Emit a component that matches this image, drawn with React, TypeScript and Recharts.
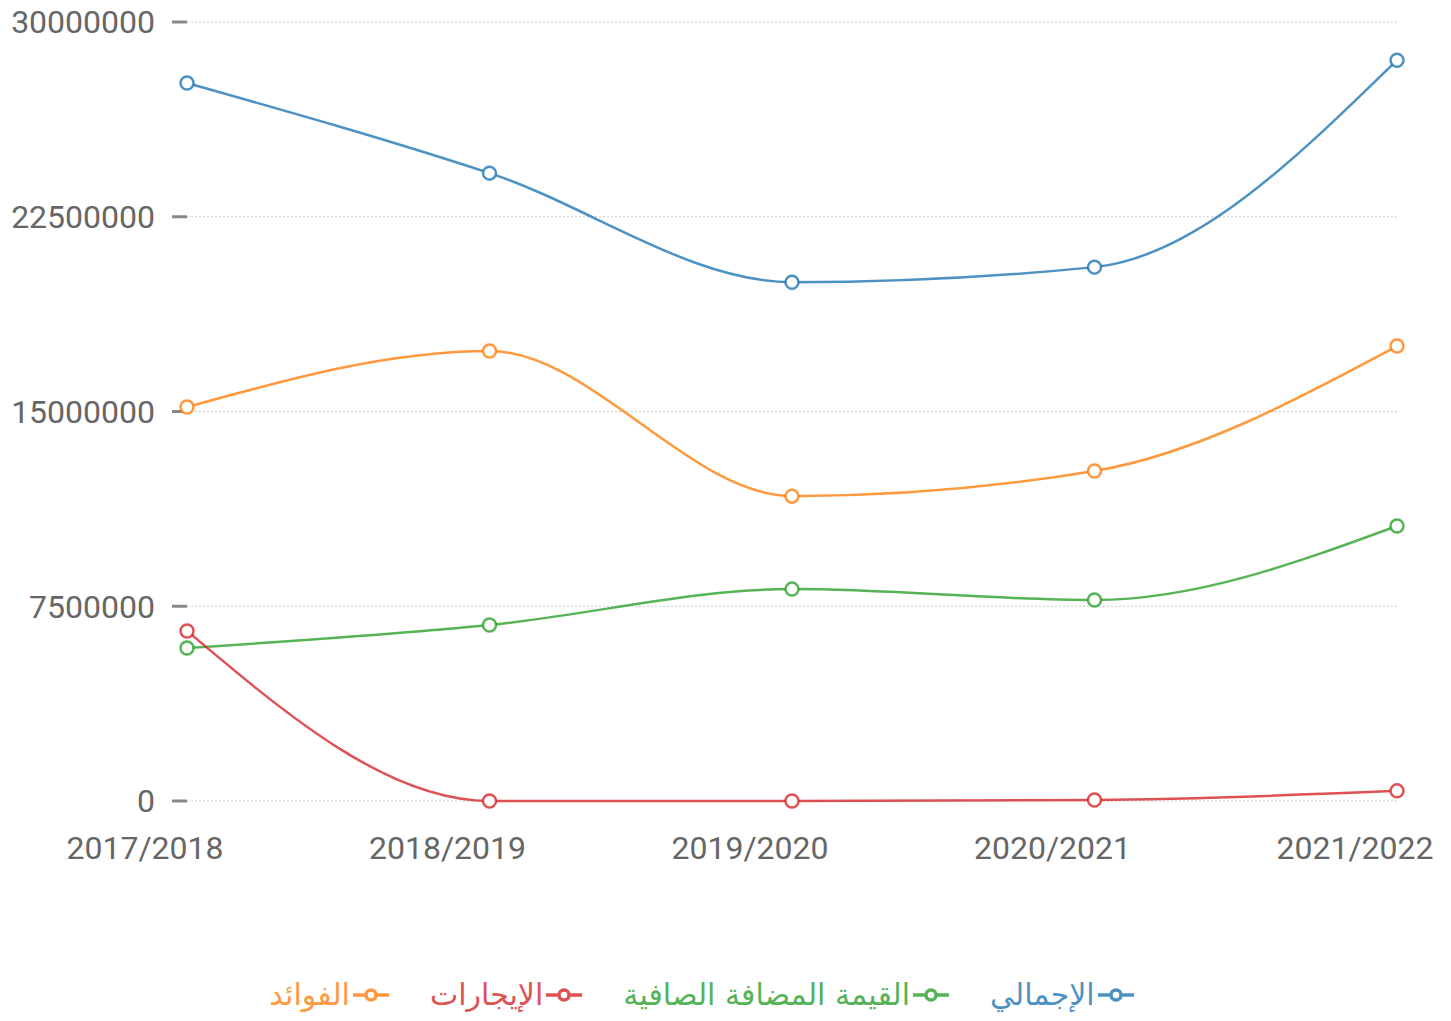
import { LineChart, Line, XAxis, YAxis, CartesianGrid } from 'recharts';

const years = ['2017/2018', '2018/2019', '2019/2020', '2020/2021', '2021/2022'];
const total = [27650000, 24180000, 19980000, 20560000, 28530000];
const netValueAdded = [5890000, 6780000, 8160000, 7740000, 10590000];
const rents = [6550000, 0, 0, 40000, 390000];
const interest = [15170000, 17330000, 11740000, 12710000, 17520000];
const yTicks = [0, 7500000, 15000000, 22500000, 30000000];

const data = years.map((year, i) => ({
  year,
  total: total[i],
  netValueAdded: netValueAdded[i],
  rents: rents[i],
  interest: interest[i],
}));

// legend order is right-to-left
const series = [
  { dataKey: 'total', name: 'الإجمالي', color: '#1f77b4' },
  { dataKey: 'netValueAdded', name: 'القيمة المضافة الصافية', color: '#2ca02c' },
  { dataKey: 'rents', name: 'الإيجارات', color: '#d62728' },
  { dataKey: 'interest', name: 'الفوائد', color: '#ff7f0e' },
];

const axisFont = { fontFamily: 'Roboto, Arial, sans-serif', fontSize: 32, fill: '#666' };

function YearTick({ x, y, payload }: any) {
  return (
    <text x={x - 42} y={y + 47} dy="0.355em" textAnchor="middle" {...axisFont}>
      {payload.value}
    </text>
  );
}

function LegendIcon({ color }: { color: string }) {
  return (
    <svg width={38} height={16} style={{ display: 'block' }}>
      <line x1={1} y1={8} x2={37} y2={8} stroke={color} strokeWidth={3.5} />
      <circle cx={19} cy={8} r={5} fill="#fff" stroke={color} strokeWidth={3.5} />
    </svg>
  );
}

export default function App() {
  return (
    <div style={{ position: 'absolute', left: 0, top: 0, width: 1451, height: 1021, background: '#fff' }}>
      <LineChart
        width={1451}
        height={1021}
        data={data}
        margin={{ top: 22, right: 54, left: 0, bottom: 160 }}
      >
        <CartesianGrid vertical={false} stroke="#ccc" strokeDasharray="2 2" />
        <XAxis
          dataKey="year"
          axisLine={false}
          tickLine={false}
          tickSize={0}
          tickMargin={0}
          height={60}
          interval={0}
          tick={<YearTick />}
        />
        <YAxis
          domain={[0, 30000000]}
          ticks={yTicks}
          width={187}
          axisLine={false}
          tickSize={15}
          tickMargin={17}
          tickLine={{ stroke: '#888', strokeWidth: 3 }}
          tick={axisFont}
          interval={0}
        />
        {series.map((s) => (
          <Line
            key={s.dataKey}
            type="monotone"
            dataKey={s.dataKey}
            name={s.name}
            stroke={s.color}
            strokeOpacity={0.8}
            strokeWidth={2.5}
            dot={{ r: 6.5, fill: '#fff', stroke: s.color, strokeWidth: 2.5, strokeOpacity: 0.8 }}
            activeDot={false}
            isAnimationActive={false}
          />
        ))}
      </LineChart>
      <div
        style={{
          position: 'absolute',
          left: 0,
          width: 1404,
          top: 976,
          display: 'flex',
          direction: 'rtl',
          justifyContent: 'center',
          gap: 40,
          fontFamily: '"DejaVu Sans", "Noto Sans", sans-serif',
          fontSize: 30,
          lineHeight: '38px',
        }}
      >
        {series.map((s) => (
          <div key={s.dataKey} style={{ display: 'flex', alignItems: 'center', color: s.color, opacity: 0.8 }}>
            <LegendIcon color={s.color} />
            <span style={{ marginRight: 2 }}>{s.name}</span>
          </div>
        ))}
      </div>
    </div>
  );
}
